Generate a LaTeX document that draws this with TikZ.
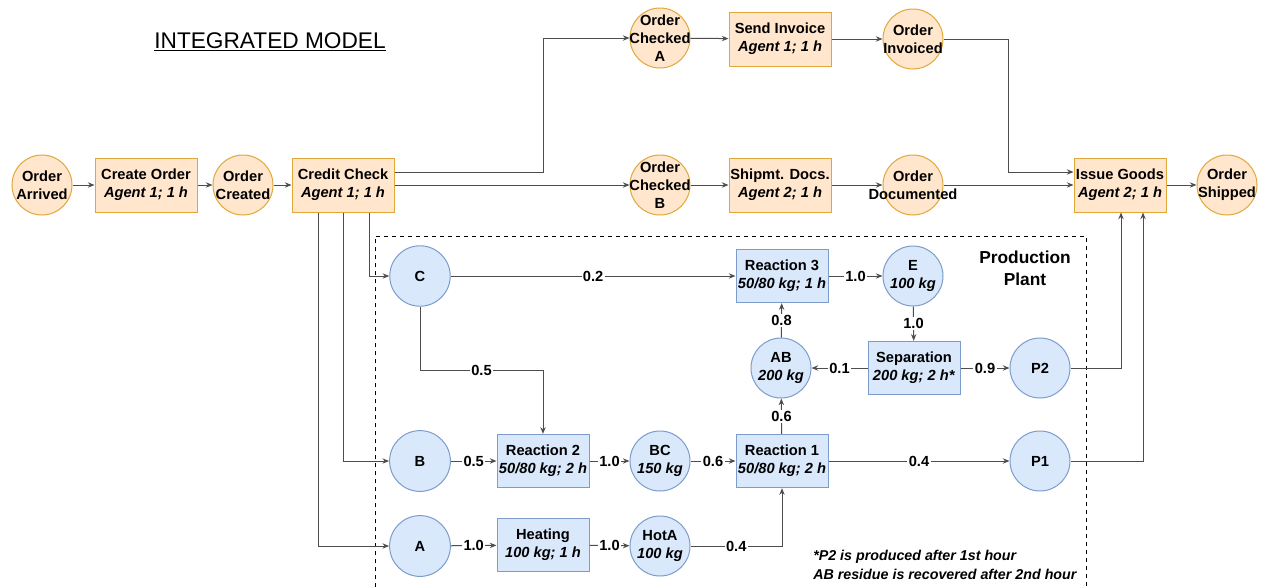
\documentclass[tikz,border=0pt]{standalone}
\usepackage{fontspec}
\setmainfont{Liberation Sans}
\usetikzlibrary{arrows.meta,calc}
\definecolor{ofill}{HTML}{FFE6CC}
\definecolor{ostroke}{HTML}{E0A83A}
\definecolor{bfill}{HTML}{DAE8FC}
\definecolor{bstroke}{HTML}{7C9CCB}
\definecolor{edgec}{HTML}{4D4D4D}
\begin{document}
\begin{tikzpicture}[x=0.75pt,y=-0.75pt,
 every node/.style={font=\fontsize{11}{13.5}\selectfont\bfseries, align=center, inner sep=0pt},
 ostate/.style={circle, draw=ostroke, fill=ofill, minimum size=45pt, inner sep=-20pt, line width=0.75pt},
 otask/.style={rectangle, draw=ostroke, fill=ofill, minimum width=76.5pt, minimum height=40.5pt, line width=0.75pt},
 bstate/.style={circle, draw=bstroke, fill=bfill, minimum size=45pt, inner sep=-20pt, line width=0.75pt},
 btask/.style={rectangle, draw=bstroke, fill=bfill, minimum width=69pt, minimum height=40pt, line width=0.75pt},
 flow/.style={draw=edgec, line width=0.75pt, -{Stealth[length=5pt,width=4pt]}},
 lbl/.style={fill=white, inner sep=1pt, midway}
]
\fill[white] (0,0) rectangle (1265,587);
\useasboundingbox (0,0) rectangle (1265,587);

% title
\node[font=\fontsize{17}{20}\selectfont] (title) at (270,42) {\underline{INTEGRATED MODEL}};

% production plant frame
\draw[dashed, line width=0.75pt] (375,587) -- (375,236) -- (1086,236) -- (1086,587);
\node[font=\fontsize{13}{16.5}\selectfont\bfseries] (pp) at (1025,268) {Production\\Plant};

% order process
\node[ostate] (oa) at (42,185) {Order\\Arrived};
\node[otask] (co) at (146,185) {Create Order\\\textit{Agent 1; 1 h}};
\node[ostate] (oc) at (243,185) {Order\\Created};
\node[otask] (cc) at (343,185) {Credit Check\\\textit{Agent 1; 1 h}};
\node[ostate] (oca) at (660,38) {Order\\Checked\\A};
\node[otask] (si) at (780,39) {Send Invoice\\\textit{Agent 1; 1 h}};
\node[ostate] (oi) at (913,39) {Order\\Invoiced};
\node[ostate] (ocb) at (660,185) {Order\\Checked\\B};
\node[otask] (sd) at (780,185) {Shipmt. Docs.\\\textit{Agent 2; 1 h}};
\node[ostate] (od) at (913,185) {Order\\Documented};
\node[otask, minimum width=69pt] (ig) at (1120,185) {Issue Goods\\\textit{Agent 2; 1 h}};
\node[ostate] (os) at (1227,185) {Order\\Shipped};

% production nodes
\node[bstate] (c) at (420,276) {C};
\node[btask] (r3) at (782,276) {Reaction 3\\\textit{50/80 kg; 1 h}};
\node[bstate] (e) at (913,276) {E\\\textit{100 kg}};
\node[bstate] (ab) at (781,368) {AB\\\textit{200 kg}};
\node[btask] (sep) at (914,368) {Separation\\\textit{200 kg; 2 h*}};
\node[bstate] (p2) at (1040,368) {P2};
\node[bstate] (b) at (420,461) {B};
\node[btask] (r2) at (543,461) {Reaction 2\\\textit{50/80 kg; 2 h}};
\node[bstate] (bc) at (660,461) {BC\\\textit{150 kg}};
\node[btask] (r1) at (782,461) {Reaction 1\\\textit{50/80 kg; 2 h}};
\node[bstate] (p1) at (1040,461) {P1};
\node[bstate] (a) at (420,546) {A};
\node[btask] (ht) at (543,545) {Heating\\\textit{100 kg; 1 h}};
\node[bstate] (hota) at (660,546) {HotA\\\textit{100 kg}};

\node[font=\fontsize{10.7}{14}\selectfont\bfseries\itshape, align=left, anchor=west] (note) at (813,565) {*P2 is produced after 1st hour\\AB residue is recovered after 2nd hour};

% order connectors
\draw[flow] (oa) -- (co);
\draw[flow] (co) -- (oc);
\draw[flow] (oc) -- (cc);
\draw[flow] ($(cc.east)+(0,-13)$) -- ++(149,0) |- (oca);
\draw[flow] (cc) -- (ocb);
\draw[flow] (oca) -- (si);
\draw[flow] (si) -- (oi);
\draw[flow] (ocb) -- (sd);
\draw[flow] (sd) -- (od);
\draw[flow] (oi.east) -- ++(65,0) |- ($(ig.west)+(0,-13)$);
\draw[flow] (od) -- (ig);
\draw[flow] (ig) -- (os);

% credit check to feeds
\draw[flow] ($(cc.south)+(26,0)$) |- (c);
\draw[flow] (cc.south) |- (b);
\draw[flow] ($(cc.south)+(-25,0)$) |- (a);

% production connectors
\draw[flow] (c) -- node[lbl]{0.2} (r3);
\draw[flow] (c.south) -- ++(0,64) -| node[lbl,pos=0.25]{0.5} (r2.north);
\draw[flow] (b) -- node[lbl]{0.5} (r2);
\draw[flow] (r2) -- node[lbl]{1.0} (bc);
\draw[flow] (bc) -- node[lbl]{0.6} (r1);
\draw[flow] (r1) -- node[lbl]{0.4} (p1);
\draw[flow] (r1) -- node[lbl]{0.6} (ab);
\draw[flow] (ab) -- node[lbl]{0.8} (r3);
\draw[flow] (r3) -- node[lbl]{1.0} (e);
\draw[flow] (e) -- node[lbl]{1.0} (sep);
\draw[flow] (sep) -- node[lbl]{0.1} (ab);
\draw[flow] (sep) -- node[lbl]{0.9} (p2);
\draw[flow] (a) -- node[lbl]{1.0} (ht);
\draw[flow] (ht) -- node[lbl]{1.0} (hota);
\draw[flow] (hota.east) -| node[lbl,pos=0.25]{0.4} (r1.south);
\draw[flow] (p2.east) -| ($(ig.south)+(1,0)$);
\draw[flow] (p1.east) -| ($(ig.south)+(23,0)$);
\end{tikzpicture}
\end{document}
